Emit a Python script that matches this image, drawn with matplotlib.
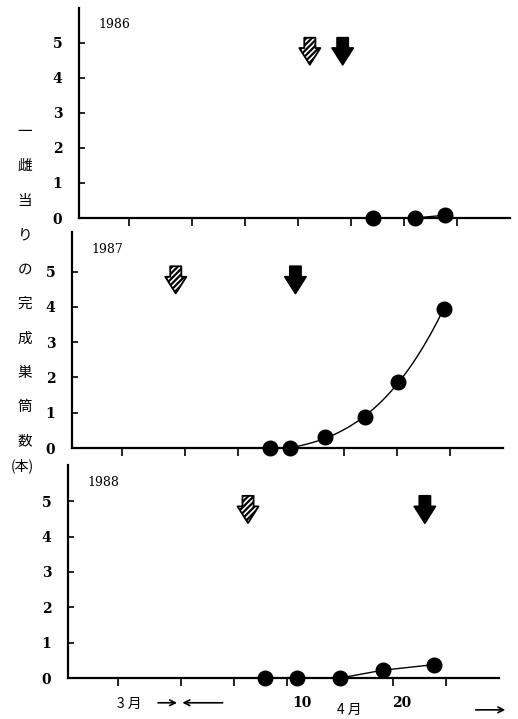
import numpy as np
import matplotlib.pyplot as plt

plt.rcParams['font.family'] = ['DejaVu Serif']
plt.rcParams['hatch.linewidth'] = 1.6

# 日付: 3月1日を1とした通し日 (4月d日 = 31 + d)
anos = ['1986', '1987', '1988']

dias_1986 = [48.1, 52.0, 54.9]
nidos_1986 = [0.0, 0.0, 0.08]

dias_1987 = [39.0, 40.9, 44.2, 48.0, 51.1, 55.4]
nidos_1987 = [0.0, 0.0, 0.3, 0.88, 1.87, 3.94]

dias_1988 = [38.9, 41.9, 46.0, 50.0, 54.9]
nidos_1988 = [0.0, 0.0, 0.0, 0.22, 0.38]

# 斜線矢印と黒矢印の日付
flecha_rayada = [42.1, 30.1, 37.3]
flecha_negra = [45.2, 41.4, 54.0]

ticks_x = [25, 31, 36, 41, 46, 51, 56]
ticks_y = [0, 1, 2, 3, 4, 5]

etiqueta_y = '一雌当りの完成巣筒数'

cjk = ['Noto Sans CJK JP', 'DejaVu Sans']

fig = plt.figure(figsize=(5.18, 7.19), dpi=100)
rects = [[0.1525, 0.6968, 0.832, 0.2921],
         [0.139, 0.3769, 0.832, 0.3004],
         [0.1313, 0.057, 0.832, 0.2962]]
ylims = [6.0, 6.12, 6.02]
datos = [(dias_1986, nidos_1986), (dias_1987, nidos_1987), (dias_1988, nidos_1988)]


def flecha(ax, x, rellena):
    props = dict(arrowstyle='simple,head_length=0.75,head_width=0.95,tail_width=0.5',
                 mutation_scale=16, shrinkA=0, shrinkB=0, lw=1.3, ec='black',
                 fc='black' if rellena else 'white')
    if not rellena:
        props['hatch'] = '//////'
    ax.annotate('', xy=(x, 4.38), xytext=(x, 5.15), arrowprops=props)


for i in range(3):
    ax = fig.add_axes(rects[i])
    ax.set_xlim(20.3, 61)
    ax.set_ylim(0, ylims[i])
    for s in ['top', 'right']:
        ax.spines[s].set_visible(False)
    for s in ['left', 'bottom']:
        ax.spines[s].set_linewidth(1.6)
    ax.set_xticks(ticks_x)
    ax.set_xticklabels([])
    ax.set_yticks(ticks_y)
    ax.tick_params(axis='x', direction='out', length=6, width=1.2)
    ax.tick_params(axis='y', direction='in', length=4, width=1.2, pad=12, labelsize=10)
    for lab in ax.get_yticklabels():
        lab.set_fontweight('bold')

    x, y = datos[i]
    if i == 1:
        # 曲線 (2点目以降の3次近似)
        c = np.polyfit(x[1:], y[1:], 3)
        xs = np.linspace(x[1], x[-1], 100)
        ax.plot(xs, np.polyval(c, xs), color='black', lw=1, clip_on=False)
    else:
        ax.plot(x, y, color='black', lw=1, clip_on=False)
    ax.plot(x, y, 'o', color='black', ms=10.5, clip_on=False, zorder=5)

    ax.text(0.045, 0.92, anos[i], transform=ax.transAxes, fontsize=9, va='center')
    flecha(ax, flecha_rayada[i], False)
    flecha(ax, flecha_negra[i], True)

    if i == 2:
        ax.text(26.1, -0.72, '3 月', family=cjk, fontsize=10, ha='center', va='center')
        ax.text(42.4, -0.72, '10', fontsize=10, ha='center', va='center', fontweight='bold')
        ax.text(46.9, -0.9, '4 月', family=cjk, fontsize=10, ha='center', va='center')
        ax.text(51.8, -0.72, '20', fontsize=10, ha='center', va='center', fontweight='bold')
        ax.annotate('', xy=(30.6, -0.7), xytext=(28.8, -0.7), annotation_clip=False,
                    arrowprops=dict(arrowstyle='->', lw=1.2, shrinkA=0, shrinkB=0))
        ax.annotate('', xy=(31.1, -0.7), xytext=(34.9, -0.7), annotation_clip=False,
                    arrowprops=dict(arrowstyle='->', lw=1.2, shrinkA=0, shrinkB=0))
        ax.annotate('', xy=(61.6, -0.9), xytext=(58.8, -0.9), annotation_clip=False,
                    arrowprops=dict(arrowstyle='->', lw=1.2, shrinkA=0, shrinkB=0))

# 縦書きの軸ラベル
for k, ch in enumerate(etiqueta_y):
    fig.text(0.048, 1 - (132 + 34.4 * k) / 719, ch, family=cjk, fontsize=10.5,
             ha='center', va='center')
fig.text(0.044, 1 - 466 / 719, '(本)', family=cjk, fontsize=10, ha='center', va='center')

fig.savefig('out.png', dpi=100)
